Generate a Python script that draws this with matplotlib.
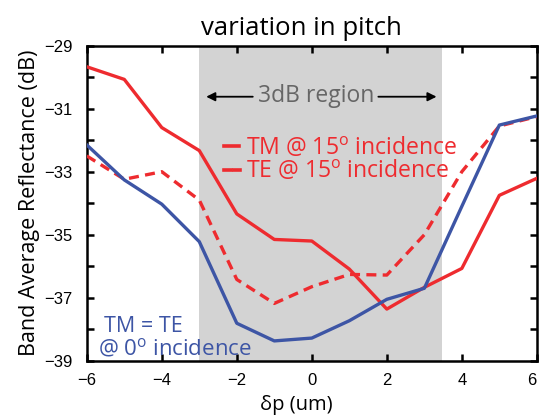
import matplotlib
matplotlib.use("Agg")
import matplotlib.pyplot as plt
from matplotlib.lines import Line2D

# ---- data ----
dp = [-6, -5, -4, -3, -2, -1, 0, 1, 2, 3, 4, 5, 6]
tm15 = [-29.67, -30.07, -31.6, -32.33, -34.34, -35.15, -35.2, -36.09, -37.36, -36.67, -36.07, -33.75, -33.21]
te15 = [-32.5, -33.24, -33.0, -33.9, -36.42, -37.18, -36.65, -36.26, -36.28, -35.0, -33.0, -31.55, -31.25]
te0 = [-32.15, -33.26, -34.03, -35.22, -37.81, -38.37, -38.28, -37.73, -37.05, -36.70, -34.1, -31.52, -31.23]
region = [-3.0, 3.47]
xticks = [-6, -4, -2, 0, 2, 4, 6]
yticks = [-29, -31, -33, -35, -37, -39]

RED = "#EE2B2F"
BLUE = "#3D55A5"
GRAY = "#D3D3D3"

plt.rcParams["mathtext.fontset"] = "custom"
plt.rcParams["mathtext.rm"] = "Open Sans"
plt.rcParams["mathtext.it"] = "Open Sans:italic"

fig = plt.figure(figsize=(5.39, 4.19), dpi=100)
ax = fig.add_axes([0.161, 0.139, 0.835, 0.752])

ax.axvspan(region[0], region[1], color=GRAY, lw=0, zorder=0)
ax.plot(dp, tm15, color=RED, lw=2.4, zorder=3)
ax.plot(dp, te15, color=RED, lw=2.4, ls=(0, (3.0, 1.9)), zorder=3)
ax.plot(dp, te0, color=BLUE, lw=2.4, zorder=4)

ax.set_xlim(-6, 6)
ax.set_ylim(-39, -29)
ax.set_xticks(xticks)
ax.set_yticks(yticks)
ax.set_yticks(range(-39, -28), minor=True)
xl = ax.set_xticklabels([str(v).replace("-", "\u2212") for v in xticks], family="Liberation Sans", fontsize=12)
xl[-1].set_horizontalalignment("right")
ax.set_yticklabels([str(v).replace("-", "\u2212") for v in yticks], family="Liberation Sans", fontsize=12)
ax.tick_params(which="both", direction="in", top=True, right=True, width=1.8, length=5)
ax.tick_params(axis="y", which="major", pad=10)
ax.tick_params(axis="x", which="major", pad=9)
ax.tick_params(which="minor", labelleft=False)
for s in ax.spines.values():
    s.set_linewidth(1.8)

ax.set_title("variation in pitch", family="Open Sans", fontsize=18.5, pad=8, x=0.476)
ax.set_xlabel("\u03b4p (um)", family="Open Sans", fontsize=14.5)
ax.xaxis.set_label_coords(0.465, -0.108)
ax.set_ylabel("Band Average Reflectance (dB)", family="Open Sans", fontsize=15.5, labelpad=3)

# 3dB region annotation
ax.text(0.11, -30.78, "3dB region", color="#666666", family="Open Sans", fontsize=16.5,
        ha="center", va="baseline")
ax.annotate("", xy=(-2.89, -30.62), xytext=(-1.5, -30.62),
            arrowprops=dict(arrowstyle="-|>", color="black", lw=1.3, mutation_scale=13))
ax.annotate("", xy=(3.4, -30.62), xytext=(1.7, -30.62),
            arrowprops=dict(arrowstyle="-|>", color="black", lw=1.3, mutation_scale=13))

# legend-like labels
ax.add_line(Line2D([-2.35, -1.93], [-32.2, -32.2], color=RED, lw=2.6))
ax.add_line(Line2D([-2.35, -2.15], [-32.95, -32.95], color=RED, lw=2.6))
ax.add_line(Line2D([-2.07, -1.91], [-32.95, -32.95], color=RED, lw=2.6))
ax.text(-1.76, -32.47, r"TM @ 15$^{\rm o}$ incidence", color=RED, family="Open Sans", fontsize=16.6, va="baseline")
ax.text(-1.76, -33.21, r"TE @ 15$^{\rm o}$ incidence", color=RED, family="Open Sans", fontsize=16.6, va="baseline")

ax.text(-5.55, -38.1, "TM = TE", color=BLUE, family="Open Sans", fontsize=15.5, va="baseline")
ax.text(-5.71, -38.82, r"@ 0$^{\rm o}$ incidence", color=BLUE, family="Open Sans", fontsize=16, va="baseline")

fig.savefig("out.png", dpi=100)
